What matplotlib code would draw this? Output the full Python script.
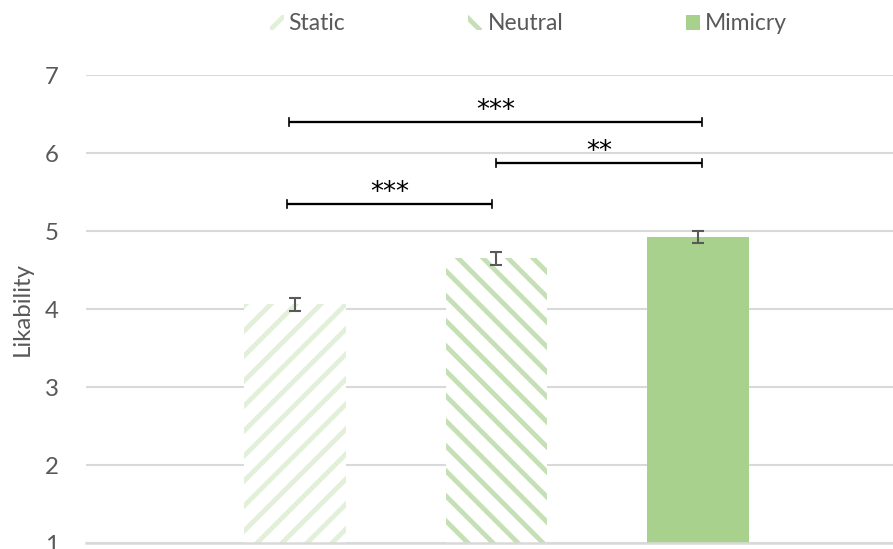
import matplotlib
matplotlib.use("Agg")
import matplotlib.pyplot as plt
from matplotlib.patches import Patch

# Likability ratings per condition (mean and standard error)
conditions = ["Static", "Neutral", "Mimicry"]
means = [4.06, 4.65, 4.92]
errors = [0.08, 0.08, 0.075]

# Pairwise significance brackets: start, end (category units), height, label
bracket_start = [-0.03, 1.00, -0.04]
bracket_end = [2.02, 2.02, 0.98]
bracket_y = [6.40, 5.875, 5.35]
bracket_label = ["***", "**", "***"]

yticks = [1, 2, 3, 4, 5, 6, 7]

DPI = 150
W, H = 893, 549
plt.rcParams["font.family"] = ["Lato", "DejaVu Sans"]
plt.rcParams["hatch.linewidth"] = 2.3

fig = plt.figure(figsize=(W / DPI, H / DPI), dpi=DPI)
ax = fig.add_axes([86 / W, 6 / H, (W - 86) / W, 468 / H])

face = ["white", "white", "#A9D18E"]
edge = ["#E2F0D9", "#C5E0B4", "#A9D18E"]
hatches = ["//", "\\\\", None]
x = list(range(len(conditions)))
for xi, m, fc, ec, h in zip(x, means, face, edge, hatches):
    ax.bar(xi, m - 1, bottom=1, width=0.505, facecolor=fc, edgecolor=ec,
           hatch=h, linewidth=0, zorder=2)

ax.errorbar(x, means, yerr=errors, fmt="none", ecolor="#595959",
            elinewidth=1.0, capsize=2.8, capthick=1.0, zorder=3)

cap = 0.05
for xs, xe, yb, lab in zip(bracket_start, bracket_end, bracket_y, bracket_label):
    ax.plot([xs, xe], [yb, yb], color="black", lw=1.1, zorder=4,
            solid_capstyle="butt")
    ax.plot([xs, xs], [yb - cap, yb + cap], color="black", lw=0.8, zorder=4)
    ax.plot([xe, xe], [yb - cap, yb + cap], color="black", lw=0.8, zorder=4)
    ax.text((xs + xe) / 2, yb - 0.025, lab, ha="center", va="bottom",
            fontsize=12.5, color="black", family="DejaVu Sans")

ax.set_xlim(-1.037, 2.968)
ax.set_ylim(1, 7)
ax.set_yticks(yticks)
ax.set_yticklabels([str(t) for t in yticks])
ax.set_xticks([])
ax.grid(axis="y", color="#D9D9D9", lw=1.0, zorder=0)
for s in ["top", "right", "left"]:
    ax.spines[s].set_visible(False)
ax.spines["bottom"].set_color("#D9D9D9")
ax.spines["bottom"].set_linewidth(1.2)
ax.tick_params(axis="y", length=0, pad=13, labelsize=11.5, labelcolor="#595959")
ax.set_ylabel("Likability", fontsize=11.5, color="#595959", labelpad=6)

handles = [Patch(facecolor=f, edgecolor=e, hatch=h, linewidth=0, label=c)
           for f, e, h, c in zip(face, edge, hatches, conditions)]
fig.legend(handles=handles, loc="center", bbox_to_anchor=(528.5 / W, 1 - 24 / H),
           ncol=3, frameon=False, fontsize=11, handlelength=0.61,
           handleheight=0.61, handletextpad=0.22, columnspacing=5.37,
           labelcolor="#595959")

fig.savefig("out.png", dpi=DPI)
